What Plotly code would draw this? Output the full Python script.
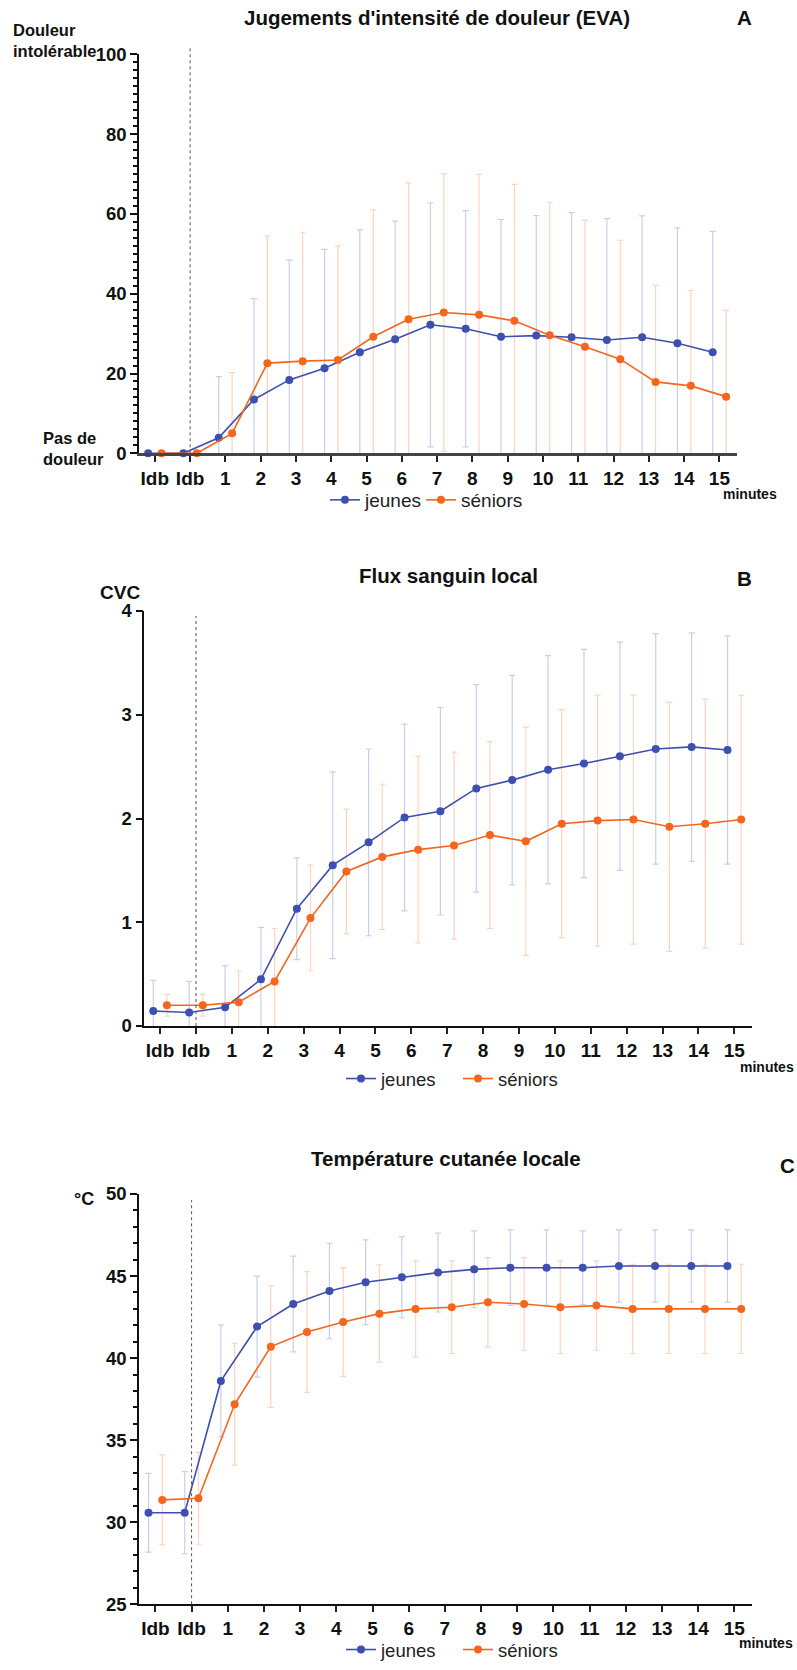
import plotly.graph_objects as go

W, H = 797, 1670
FONT = "Liberation Sans, Arial, sans-serif"
BLUE = "#3E4FAF"
ORANGE = "#F4661E"
BLUE_EB = "rgba(62,79,175,0.28)"
ORANGE_EB = "rgba(244,102,30,0.28)"
OFFSET = 0.19

# ---------------- data ----------------
x_labels = ["Idb", "Idb"] + [str(i) for i in range(1, 16)]
x_pos = list(range(-1, 16))

# Panel A - EVA
eva_jeunes = [0, 0, 3.9, 13.5, 18.4, 21.3, 25.3, 28.6, 32.2, 31.2, 29.2, 29.5, 29.1, 28.4, 29.1, 27.6, 25.3]
eva_jeunes_sd = [0, 0, 15.3, 25.3, 30.0, 29.8, 30.7, 29.6, 30.6, 29.6, 29.4, 30.1, 31.2, 30.4, 30.4, 28.9, 30.3]
eva_seniors = [0, 0, 5.0, 22.6, 23.1, 23.4, 29.2, 33.6, 35.3, 34.7, 33.2, 29.6, 26.7, 23.6, 17.9, 16.9, 14.2]
eva_seniors_sd = [0, 0, 15.2, 31.9, 32.3, 28.6, 31.8, 34.2, 34.8, 35.2, 34.2, 33.2, 31.7, 29.8, 24.2, 23.9, 21.6]

# Panel B - CVC
cvc_jeunes = [0.145, 0.13, 0.18, 0.45, 1.13, 1.55, 1.77, 2.01, 2.07, 2.29, 2.37, 2.47, 2.53, 2.60, 2.67, 2.69, 2.66]
cvc_jeunes_sd = [0.295, 0.30, 0.40, 0.50, 0.49, 0.90, 0.90, 0.90, 1.00, 1.00, 1.01, 1.10, 1.10, 1.10, 1.11, 1.10, 1.10]
cvc_seniors = [0.20, 0.20, 0.23, 0.43, 1.04, 1.49, 1.63, 1.70, 1.74, 1.84, 1.78, 1.95, 1.98, 1.99, 1.92, 1.95, 1.99]
cvc_seniors_sd = [0.105, 0.105, 0.30, 0.51, 0.51, 0.60, 0.70, 0.90, 0.90, 0.90, 1.10, 1.10, 1.21, 1.20, 1.20, 1.20, 1.20]

# Panel C - temperature
temp_jeunes = [30.58, 30.58, 38.61, 41.92, 43.30, 44.09, 44.62, 44.93, 45.21, 45.41, 45.51, 45.51, 45.51, 45.61, 45.61, 45.61, 45.61]
temp_jeunes_sd = [2.40, 2.50, 3.41, 3.08, 2.92, 2.91, 2.58, 2.47, 2.40, 2.34, 2.30, 2.30, 2.24, 2.20, 2.20, 2.20, 2.20]
temp_seniors = [31.36, 31.46, 37.19, 40.70, 41.59, 42.20, 42.71, 43.00, 43.10, 43.40, 43.30, 43.10, 43.20, 43.00, 43.00, 43.00, 43.00]
temp_seniors_sd = [2.74, 2.80, 3.71, 3.70, 3.68, 3.31, 2.97, 2.92, 2.82, 2.72, 2.82, 2.82, 2.72, 2.72, 2.72, 2.72, 2.72]

series_names = ["jeunes", "séniors"]

# ---------------- figure ----------------
fig = go.Figure()

x_j = [v - OFFSET for v in x_pos]
x_s = [v + OFFSET for v in x_pos]


def add_panel(idx, jeunes, jeunes_sd, seniors, seniors_sd, legends):
    xa = "x" if idx == 1 else f"x{idx}"
    ya = "y" if idx == 1 else f"y{idx}"
    for xs, ys, sd, col in [(x_j, jeunes, jeunes_sd, BLUE_EB), (x_s, seniors, seniors_sd, ORANGE_EB)]:
        fig.add_trace(go.Scatter(
            x=xs, y=ys, mode="markers", xaxis=xa, yaxis=ya,
            marker=dict(size=1, color="rgba(0,0,0,0)"),
            error_y=dict(type="data", array=sd, visible=True, color=col, thickness=1.2, width=3),
            hoverinfo="skip", showlegend=False))
    for xs, ys, col, name, lg in [(x_j, jeunes, BLUE, series_names[0], legends[0]),
                                  (x_s, seniors, ORANGE, series_names[1], legends[1])]:
        fig.add_trace(go.Scatter(
            x=xs, y=ys, mode="lines+markers", name=name, xaxis=xa, yaxis=ya,
            line=dict(color=col, width=1.6), marker=dict(color=col, size=8),
            cliponaxis=False, legend=lg))


add_panel(1, eva_jeunes, eva_jeunes_sd, eva_seniors, eva_seniors_sd, ("legend", "legend4"))
add_panel(2, cvc_jeunes, cvc_jeunes_sd, cvc_seniors, cvc_seniors_sd, ("legend2", "legend2"))
add_panel(3, temp_jeunes, temp_jeunes_sd, temp_seniors, temp_seniors_sd, ("legend3", "legend3"))


def xdom(l, r):
    return [l / W, r / W]


def ydom(top, bottom):
    return [1 - bottom / H, 1 - top / H]


tick_font = dict(family=FONT, size=19, color="#111", weight="bold")
ytick_font = dict(family=FONT, size=18.5, color="#111", weight="bold")


def xaxis(dom, rng, lw, lc):
    return dict(domain=dom, range=rng, tickmode="array", tickvals=x_pos, ticktext=x_labels,
                ticks="outside", ticklen=6, tickwidth=2, tickcolor="#222",
                showline=True, linewidth=lw, linecolor=lc, showgrid=False, zeroline=False,
                tickfont=tick_font, fixedrange=True)


def yaxis(dom, rng, dtick, minor, lw, anchor):
    d = dict(domain=dom, range=rng, dtick=dtick, tick0=rng[0], ticks="outside", ticklen=7, tickwidth=2,
             tickcolor="#111", showline=True, linewidth=lw, linecolor="#111", showgrid=False,
             zeroline=False, tickfont=ytick_font, anchor=anchor, fixedrange=True)
    if minor:
        d["minor"] = dict(dtick=minor, ticks="outside", ticklen=4, tickwidth=1.5, tickcolor="#111", showgrid=False)
    return d


fig.update_layout(
    width=W, height=H, margin=dict(l=0, r=0, t=0, b=0, autoexpand=False),
    paper_bgcolor="white", plot_bgcolor="white",
    font=dict(family=FONT, color="#111"),
    xaxis=dict(xaxis(xdom(139.3, 736.7), [-1.44, 15.49], 3, "#444"), anchor="y"),
    yaxis=yaxis(ydom(54.3, 453.3), [0, 100], 20, 2, 2, "x"),
    xaxis2=dict(xaxis(xdom(144.3, 752.3), [-1.44, 15.50], 1.6, "#111"), anchor="y2"),
    yaxis2=yaxis(ydom(611, 1026), [0, 4], 1, None, 1.6, "x2"),
    xaxis3=dict(xaxis(xdom(139.3, 751.7), [-1.445, 15.48], 2, "#111"), anchor="y3"),
    yaxis3=yaxis(ydom(1194, 1604.3), [25, 50], 5, 1, 2, "x3"),
)

leg_common = dict(orientation="h", yanchor="middle", bgcolor="rgba(0,0,0,0)",
                  font=dict(family=FONT, size=18.5, color="#222"), itemclick=False, itemdoubleclick=False)
legA_font = dict(family=FONT, size=19, color="#222")
fig.update_layout(
    legend=dict(leg_common, x=325 / W, xanchor="left", y=1 - 500 / H, font=legA_font),
    legend4=dict(leg_common, x=421 / W, xanchor="left", y=1 - 500 / H, font=legA_font),
    legend2=dict(leg_common, x=458 / W, xanchor="center", y=1 - 1079 / H,
                 entrywidthmode="pixels", entrywidth=72),
    legend3=dict(leg_common, x=458 / W, xanchor="center", y=1 - 1650 / H,
                 entrywidthmode="pixels", entrywidth=72),
)

# dashed vertical line at second Idb
for xr, yr, top in [("x", "y domain", 1.0225), ("x2", "y2 domain", 0.988), ("x3", "y3 domain", 0.985)]:
    fig.add_shape(type="line", xref=xr, yref=yr, x0=0, x1=0, y0=0, y1=top,
                  line=dict(color="#555", width=1, dash="dot"))

title_font = dict(family=FONT, size=20.5, color="#111", weight="bold")
lab_font = dict(family=FONT, size=16.5, color="#111", weight="bold")
min_font = dict(family=FONT, size=14, color="#111", weight="bold")


def ann(text, x, y, font, xanchor="center", align="center"):
    fig.add_annotation(text=text, x=x / W, y=1 - y / H, xref="paper", yref="paper", showarrow=False,
                       font=font, xanchor=xanchor, yanchor="middle", align=align)


ann("Jugements d'intensité de douleur (EVA)", 436.7, 18, title_font)
ann("A", 744, 18, title_font)
ann("Douleur<br>intolérable", 11, 41, lab_font, xanchor="left", align="left")
ann("Pas de<br>douleur", 41, 448, lab_font, xanchor="left", align="left")
ann("minutes", 750, 494, min_font)

ann("Flux sanguin local", 448, 575, title_font)
ann("B", 744, 578, title_font)
ann("CVC", 120, 593, dict(family=FONT, size=19, color="#111", weight="bold"))
ann("minutes", 767, 1067, min_font)

ann("Température cutanée locale", 446, 1158, title_font)
ann("C", 787, 1165, title_font)
ann("°C", 84, 1199, dict(family=FONT, size=18, color="#111", weight="bold"))
ann("minutes", 766, 1643, min_font)

fig.write_html("out.html")
